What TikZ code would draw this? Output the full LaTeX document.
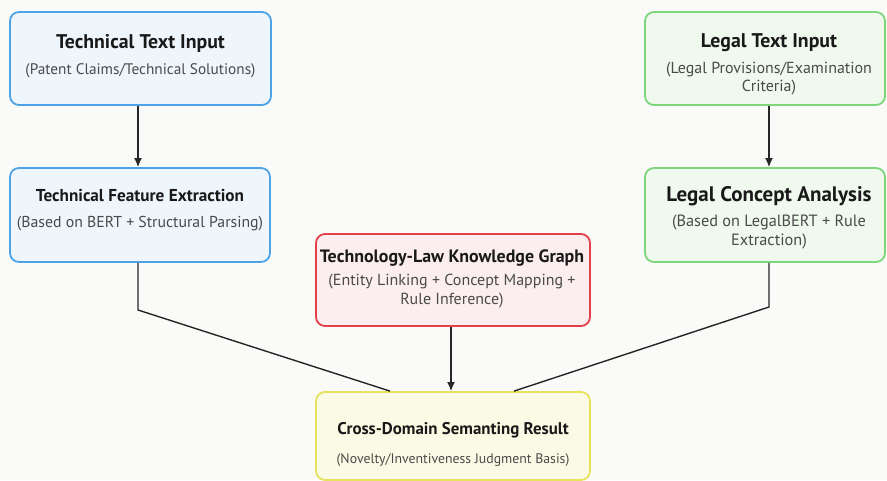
\documentclass[tikz,border=0pt]{standalone}
\usepackage{fontspec}
\setmainfont{PT Sans}
\usetikzlibrary{arrows.meta}
\definecolor{bgc}{HTML}{FAFAF8}
\definecolor{bluefill}{HTML}{EEF5FB}
\definecolor{blueline}{HTML}{4DA3E8}
\definecolor{greenfill}{HTML}{F0F9EE}
\definecolor{greenline}{HTML}{7ED67C}
\definecolor{redfill}{HTML}{FCEEEF}
\definecolor{redline}{HTML}{E5404A}
\definecolor{yelfill}{HTML}{FBFAE4}
\definecolor{yelline}{HTML}{E8E25A}
\definecolor{subc}{HTML}{4A4A4A}
\newcommand{\fsz}[2]{\fontsize{#1}{#2}\selectfont}
\begin{document}
\begin{tikzpicture}[x=1pt,y=-1pt,
  box/.style={rectangle, rounded corners=9pt, line width=1.8pt, inner sep=0pt},
  ttl/.style={font=\bfseries, text=black!90, inner sep=0pt},
  sub/.style={text=subc, align=center, inner sep=0pt},
  arr/.style={line width=1.4pt, black!85, -{Latex[length=9pt,width=8pt]}},
  ln/.style={line width=1.4pt, black!85}]
\fill[bgc] (0,0) rectangle (887,480);
\useasboundingbox (0,0) rectangle (887,480);
% boxes
\node[box, draw=blueline, fill=bluefill, minimum width=261pt, minimum height=93pt] (tti) at (140.5,58.5) {};
\node[box, draw=blueline, fill=bluefill, minimum width=260pt, minimum height=94pt] (tfe) at (140,215) {};
\node[box, draw=greenline, fill=greenfill, minimum width=240pt, minimum height=93pt] (lti) at (765,58.5) {};
\node[box, draw=greenline, fill=greenfill, minimum width=240pt, minimum height=94pt] (lca) at (765,215) {};
\node[box, draw=redline, fill=redfill, minimum width=274pt, minimum height=92pt] (kg) at (453,280) {};
\node[box, draw=yelline, fill=yelfill, minimum width=274pt, minimum height=88pt] (cd) at (453,436) {};
% texts
\node[ttl, font=\bfseries\fsz{19.8}{22}] (t1) at (140.5,43) {Technical Text Input};
\node[sub, font=\fsz{15.3}{18}] (s1) at (140.5,71) {(Patent Claims/Technical Solutions)};
\node[ttl, font=\bfseries\fsz{17.2}{20}] (t2) at (140,196) {Technical Feature Extraction};
\node[sub, font=\fsz{15.8}{18}] (s2) at (140,224) {(Based on BERT + Structural Parsing)};
\node[ttl, font=\bfseries\fsz{19.8}{22}] (t3) at (769,43) {Legal Text Input};
\node[sub, font=\fsz{16}{18}] (s3) at (769,79) {(Legal Provisions/Examination\\Criteria)};
\node[ttl, font=\bfseries\fsz{21}{24}] (t4) at (769,196) {Legal Concept Analysis};
\node[sub, font=\fsz{16.3}{19}] (s4) at (769,231.5) {(Based on LegalBERT + Rule\\Extraction)};
\node[ttl, font=\bfseries\fsz{17.9}{20}] (t5) at (452,258) {Technology-Law Knowledge Graph};
\node[sub, font=\fsz{16}{19}] (s5) at (452,291.5) {(Entity Linking + Concept Mapping +\\Rule Inference)};
\node[ttl, font=\bfseries\fsz{16.9}{19}] (t6) at (453,430) {Cross-Domain Semanting Result};
\node[sub, font=\fsz{13.8}{16}] (s6) at (453,460) {(Novelty/Inventiveness Judgment Basis)};
% connectors
\draw[arr] (tti.south -| 138,0) -- (tfe.north -| 138,0);
\draw[arr] (lti.south -| 769,0) -- (lca.north -| 769,0);
\draw[arr] (kg.south -| 451,0) -- (cd.north -| 451,0);
\coordinate (lb) at (138,310);
\coordinate (rb) at (769,307);
\draw[ln] (tfe.south -| 138,0) -- (lb) -- (cd.north -| 390,0);
\draw[ln] (lca.south -| 769,0) -- (rb) -- (cd.north -| 514,0);
\end{tikzpicture}
\end{document}
